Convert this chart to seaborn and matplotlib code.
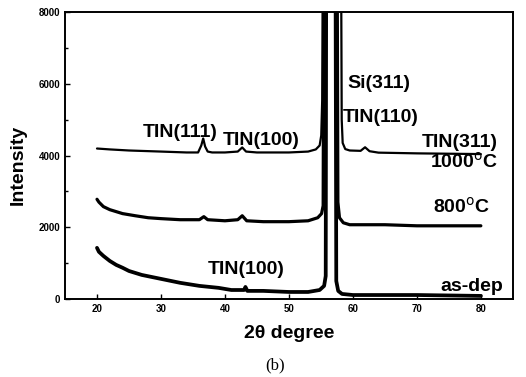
import numpy as np
import pandas as pd
import matplotlib
matplotlib.use("Agg")
import matplotlib.pyplot as plt
import seaborn as sns

# XRD patterns (2-theta in degrees, intensity in counts)
two_theta_1000 = [20.0, 22.0, 25.0, 30.0, 34.0, 35.8, 36.3, 36.6, 36.9, 37.3, 38.0, 40.0,
                  42.0, 42.7, 43.3, 45.0, 50.0, 53.0, 54.2, 54.8, 55.05, 55.2, 55.35,
                  58.1, 58.25, 58.4, 58.8, 59.5, 61.2, 61.9, 62.6, 64.0, 70.0, 75.0, 80.0]
int_1000 = [4195, 4170, 4140, 4110, 4085, 4085, 4280, 4475, 4250, 4110, 4085, 4085,
            4110, 4225, 4110, 4085, 4085, 4110, 4170, 4280, 4560, 5540, 12000,
            12000, 5000, 4350, 4180, 4140, 4130, 4230, 4120, 4080, 4060, 4050, 4040]

two_theta_800 = [20.0, 20.3, 21.0, 22.0, 24.0, 26.0, 28.0, 30.0, 33.0, 36.0, 36.7, 37.3,
                 40.0, 42.0, 42.7, 43.4, 46.0, 50.0, 53.0, 54.5, 55.1, 55.35, 55.5,
                 57.5, 57.65, 57.9, 58.5, 59.5, 65.0, 70.0, 80.0]
int_800 = [2780, 2700, 2575, 2490, 2380, 2320, 2265, 2240, 2210, 2210, 2295, 2210,
           2180, 2210, 2320, 2180, 2155, 2155, 2180, 2265, 2380, 2600, 12000,
           12000, 2700, 2265, 2125, 2070, 2070, 2040, 2040]

two_theta_asdep = [20.0, 20.3, 21.0, 22.0, 23.0, 24.0, 25.0, 27.0, 30.0, 33.0, 36.0, 39.0,
                   41.0, 43.0, 43.2, 43.5, 46.0, 50.0, 53.0, 54.8, 55.5, 55.75, 55.85,
                   57.25, 57.4, 57.7, 58.3, 60.0, 70.0, 80.0]
int_asdep = [1425, 1315, 1200, 1060, 950, 870, 780, 670, 560, 450, 365, 310,
             250, 250, 335, 225, 225, 195, 195, 250, 365, 640, 12000,
             12000, 500, 225, 140, 110, 110, 85]

x_ticks = [20, 30, 40, 50, 60, 70, 80]
y_ticks = [0, 2000, 4000, 6000, 8000]

sns.set_style("ticks")
plt.rcParams["font.family"] = ["Liberation Sans", "DejaVu Sans"]
plt.rcParams["text.color"] = "black"
plt.rcParams["axes.labelcolor"] = "black"
plt.rcParams["xtick.color"] = "black"
plt.rcParams["ytick.color"] = "black"

fig = plt.figure(figsize=(5.26, 3.77), dpi=100)
ax = fig.add_axes([0.1236, 0.207, 0.8514, 0.761])

series = [
    (two_theta_1000, int_1000, 1.6),
    (two_theta_800, int_800, 2.3),
    (two_theta_asdep, int_asdep, 2.7),
]
for tt, inten, lw in series:
    df = pd.DataFrame({"two_theta": tt, "intensity": inten})
    sns.lineplot(data=df, x="two_theta", y="intensity", ax=ax, color="black",
                 linewidth=lw, sort=False, estimator=None)

ax.set_xlim(15, 85)
ax.set_ylim(0, 8000)
ax.set_xticks(x_ticks)
ax.set_yticks(y_ticks)
ax.set_yticks([1000, 3000, 5000, 7000], minor=True)
ax.tick_params(axis="both", which="both", direction="in", length=3.5, width=1.0,
               labelsize=7, colors="black")
ax.tick_params(axis="both", which="minor", length=2.5)
for lab in ax.get_xticklabels() + ax.get_yticklabels():
    lab.set_fontweight("bold")
for sp in ax.spines.values():
    sp.set_linewidth(1.4)
    sp.set_color("black")

ax.set_xlabel("2θ degree", fontsize=14, fontweight="bold", color="black", labelpad=8)
ax.set_ylabel("Intensity", fontsize=14, fontweight="bold", color="black")
ax.yaxis.set_label_coords(-0.085, 0.467)

lab_kw = dict(fontsize=14, fontweight="bold", color="black", va="center", ha="left")
ax.text(27.2, 4630, "TIN(111)", **lab_kw)
ax.text(39.7, 4430, "TIN(100)", **lab_kw)
ax.text(59.1, 6020, "Si(311)", **lab_kw)
ax.text(58.4, 5070, "TIN(110)", **lab_kw)
ax.text(70.8, 4375, "TIN(311)", **lab_kw)
ax.text(72.0, 3820, "1000$^\\mathrm{o}$C", **lab_kw)
ax.text(72.5, 2565, "800$^\\mathrm{o}$C", **lab_kw)
ax.text(73.6, 360, "as-dep", **lab_kw)
ax.text(37.3, 835, "TIN(100)", **lab_kw)

fig.text(0.523, 0.032, "(b)", fontsize=12, family=["Liberation Serif", "DejaVu Serif"],
         ha="center", va="center", color="black")

fig.savefig("out.png", dpi=100)
